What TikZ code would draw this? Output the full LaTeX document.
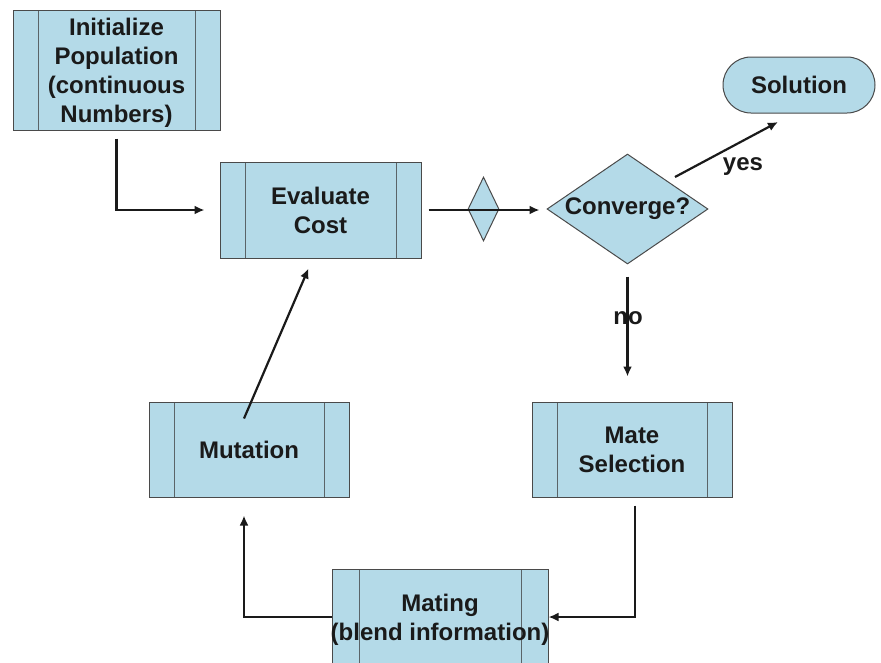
\documentclass[tikz,border=0pt]{standalone}
\usepackage{fontspec}
\setmainfont{Liberation Sans}
\usetikzlibrary{arrows.meta,shapes.geometric,calc}
\definecolor{boxfill}{HTML}{B4DAE8}
\definecolor{boxline}{HTML}{4A4A4A}
\definecolor{innerline}{HTML}{5A6468}
\definecolor{ink}{HTML}{1A1A1A}
\begin{document}
\begin{tikzpicture}[x=1pt,y=-1pt,
  font=\fontsize{24}{29}\selectfont\bfseries,
  proc/.style={draw=boxline, line width=1pt, fill=boxfill, text=ink,
    align=center, inner sep=0pt,
    path picture={
      \draw[innerline, line width=1pt]
        ([xshift=#1]path picture bounding box.north west) --
        ([xshift=#1]path picture bounding box.south west);
      \draw[innerline, line width=1pt]
        ([xshift=-#1]path picture bounding box.north east) --
        ([xshift=-#1]path picture bounding box.south east);}},
  proc/.default=25pt,
  term/.style={draw=boxline, line width=1pt, fill=boxfill, text=ink,
    rounded corners=28pt, inner sep=0pt},
  dec/.style={draw=boxline, line width=1pt, fill=boxfill, diamond,
    inner sep=0pt},
  lbl/.style={text=ink, inner sep=0pt, align=center},
  arr/.style={draw=ink, line width=2.2pt, -{Latex[length=10pt,width=9pt]}}]
\useasboundingbox (0,0) rectangle (881,662);
\fill[white] (0,0) rectangle (881,662);
\clip (0,0) rectangle (881,662);

\node[proc, minimum width=207pt, minimum height=120pt] (init) at (116.5,70) {};
\node[lbl] (inittext) at ([yshift=-3pt]init.center)
  {Initialize\\Population\\(continuous\\Numbers)};
\node[proc, minimum width=201pt, minimum height=96pt] (eval) at (320.5,210)
  {Evaluate\\Cost};
\node[dec, minimum width=31pt, minimum height=64pt] (gate) at (483.5,209) {};
\node[dec, minimum width=161pt, minimum height=110pt] (conv) at (627.5,209) {};
\node[lbl] (convtext) at (conv) {Converge?};
\node[term, minimum width=152pt, minimum height=56pt] (sol) at (799,85) {Solution};
\node[proc, minimum width=200pt, minimum height=95pt] (mut) at (249,449.5) {Mutation};
\node[proc, minimum width=200pt, minimum height=95pt] (mate) at (632,449.5)
  {Mate\\Selection};
\node[proc=27pt, minimum width=216pt, minimum height=96pt] (mating) at (440,617) {};
\node[lbl] (matingtext) at ([yshift=-3pt]mating.center)
  {Mating\\(blend information)};

\coordinate (nostart) at ([yshift=-12pt]conv.south);
\draw[arr] ([yshift=-8pt]init.south) |- ([xshift=-15pt]eval.west);
\draw[arr] ([xshift=7pt]eval.east) -- ([xshift=-7pt]eval.east -| conv.west);
\draw[arr] (675,177) -- (778,122);
\node[lbl] (yes) at (743,167) {yes};
\draw[arr] (nostart) -- ([yshift=25pt]nostart |- mate.north);
\node[lbl] (no) at (628,318) {no};
\draw[arr] ([xshift=3pt,yshift=-8pt]mate.south) |- (mating.east);
\draw[arr] (mating.west) -| ([xshift=-5pt,yshift=-18pt]mut.south);
\draw[arr] ([xshift=-5pt,yshift=-17pt]mut.north) -- ([xshift=-12pt,yshift=-10pt]eval.south);
\end{tikzpicture}
\end{document}
